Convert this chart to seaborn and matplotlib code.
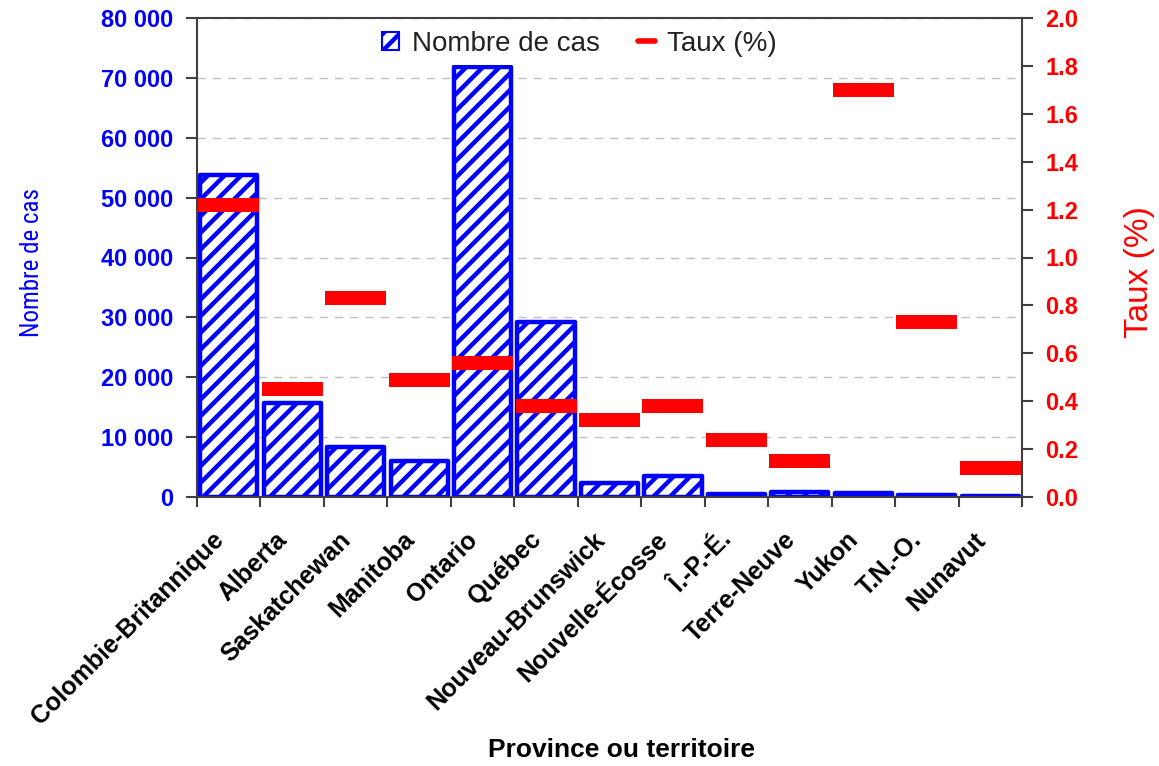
import numpy as np
import pandas as pd
import matplotlib
matplotlib.use("Agg")
import matplotlib.pyplot as plt
import seaborn as sns
from matplotlib.path import Path
from matplotlib.ticker import FuncFormatter, FixedLocator
from matplotlib.patches import Patch
from matplotlib.lines import Line2D
from matplotlib import font_manager

# ---------------- data ----------------
provinces = ["Colombie-Britannique", "Alberta", "Saskatchewan", "Manitoba", "Ontario",
             "Québec", "Nouveau-Brunswick", "Nouvelle-Écosse", "Î.-P.-É.", "Terre-Neuve",
             "Yukon", "T.N.-O.", "Nunavut"]
nombre_de_cas = [53800, 15700, 8300, 6000, 71800, 29200, 2300, 3500, 500, 800, 600, 400, 250]
taux = [1.22, 0.45, 0.83, 0.49, 0.56, 0.38, 0.32, 0.38, 0.24, 0.15, 1.70, 0.73, 0.12]
left_ticks = [0, 10000, 20000, 30000, 40000, 50000, 60000, 70000, 80000]
right_ticks = [0.0, 0.2, 0.4, 0.6, 0.8, 1.0, 1.2, 1.4, 1.6, 1.8, 2.0]

df = pd.DataFrame({"province": provinces, "cas": nombre_de_cas, "taux": taux})

# ---------------- style ----------------
sns.set_style("white")
avail = {f.name for f in font_manager.fontManager.ttflist}
base = "Liberation Sans" if "Liberation Sans" in avail else "DejaVu Sans"
narrow = base
for cand in ["Liberation Sans Narrow", "DejaVu Sans Condensed", "Roboto Condensed"]:
    if cand in avail:
        narrow = cand
        break
plt.rcParams["font.family"] = [base, "DejaVu Sans"]
plt.rcParams["hatch.linewidth"] = 3.2
plt.rcParams["hatch.color"] = "#0000FF"

BLUE = "#0000FF"
RED = "#FF0000"
SPINE = "#404040"

fig = plt.figure(figsize=(11.59, 7.66), dpi=100)
W, H = 1159, 766
ax = fig.add_axes([197 / W, 1 - 497 / H, (1022 - 197) / W, (497 - 18) / H])

sns.barplot(data=df, x="province", y="cas", ax=ax, order=provinces,
            color="white", saturation=1, edgecolor=BLUE, linewidth=3.2,
            width=0.9, hatch="//", zorder=2)
for p in ax.patches:
    p.set_joinstyle("round")

ax2 = ax.twinx()
rect = Path([(-0.5, -0.115), (0.5, -0.115), (0.5, 0.115), (-0.5, 0.115), (-0.5, -0.115)],
            [Path.MOVETO, Path.LINETO, Path.LINETO, Path.LINETO, Path.CLOSEPOLY])
sns.scatterplot(data=df, x="province", y="taux", ax=ax2, marker=rect, s=1930,
                color=RED, linewidth=0, edgecolor="none", legend=False, zorder=3)

n = len(provinces)
ax.set_xlim(-0.5, n - 0.5)
ax.set_ylim(0, 80000)
ax2.set_ylim(0, 2.0)

# left axis
ax.yaxis.set_major_locator(FixedLocator(left_ticks))
ax.yaxis.set_major_formatter(FuncFormatter(lambda v, p: f"{int(round(v)):,}".replace(",", " ")))
ax.tick_params(axis="y", which="major", direction="out", length=8, width=1.5,
               color=SPINE, pad=9, labelsize=17, labelcolor=BLUE, left=True)
for t in ax.get_yticklabels():
    t.set_fontweight("bold")
ax.grid(axis="y", color="#c0c0c0", linestyle=(0, (6, 5)), linewidth=1.0)
ax.set_axisbelow(True)

# right axis
ax2.yaxis.set_major_locator(FixedLocator(right_ticks))
ax2.yaxis.set_major_formatter(FuncFormatter(lambda v, p: f"{v:.1f}"))
ax2.tick_params(axis="y", which="major", direction="out", length=8, width=1.5,
                color=SPINE, pad=9, labelsize=17, labelcolor=RED, right=True)
for t in ax2.get_yticklabels():
    t.set_fontweight("bold")

# x axis: labels centred, tick marks at boundaries
ax.xaxis.set_major_locator(FixedLocator(np.arange(n)))
ax.set_xticklabels(provinces)
ax.xaxis.set_minor_locator(FixedLocator(np.arange(-0.5, n, 1.0)))
ax.tick_params(axis="x", which="major", length=0, pad=22, labelsize=18, bottom=True)
ax.tick_params(axis="x", which="minor", direction="out", length=7, width=1.5,
               color=SPINE, bottom=True)
for t in ax.get_xticklabels():
    t.set_rotation(45)
    t.set_ha("right")
    t.set_fontweight("bold")
    t.set_color("black")

# spines
for sp in ["left", "bottom", "top"]:
    ax.spines[sp].set_visible(True)
    ax.spines[sp].set_color(SPINE)
    ax.spines[sp].set_linewidth(1.5)
ax.spines["right"].set_visible(False)
for sp in ["left", "bottom", "top"]:
    ax2.spines[sp].set_visible(False)
ax2.spines["right"].set_visible(True)
ax2.spines["right"].set_color(SPINE)
ax2.spines["right"].set_linewidth(1.5)

# labels
ax.set_xlabel("Province ou territoire", fontsize=19, fontweight="bold", color="black")
ax.xaxis.set_label_coords(0.514, -0.503)
ax.set_ylabel("Nombre de cas", fontsize=18, color=BLUE, family=[narrow, "DejaVu Sans"])
ax.yaxis.set_label_coords(-0.186, 0.49)
ax2.set_ylabel("Taux (%)", fontsize=24, color=RED)
ax2.yaxis.set_label_coords(1.124, 0.47)

# legend
handles = [Patch(facecolor="white", edgecolor=BLUE, hatch="//", linewidth=1.5),
           Line2D([], [], color=RED, linewidth=4)]
leg = ax2.legend(handles, ["Nombre de cas", "Taux (%)"], loc="upper center",
                 bbox_to_anchor=(0.464, 1.02), ncol=2, fontsize=20, frameon=True,
                 facecolor="white", edgecolor="none", framealpha=1, fancybox=False,
                 handlelength=0.6, handleheight=0.6, handletextpad=0.45,
                 columnspacing=1.4, borderpad=0.3, labelcolor="#222222")
leg.set_zorder(10)

fig.savefig("out.png", dpi=100, facecolor="white")
